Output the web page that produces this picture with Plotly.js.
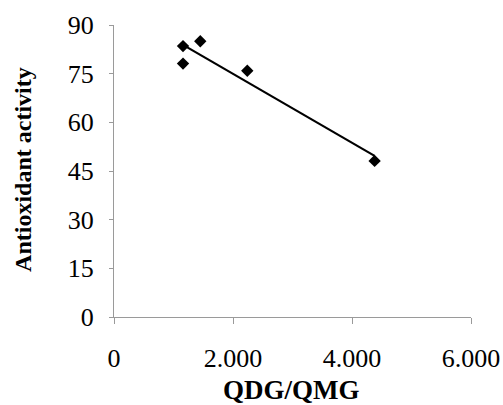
<!DOCTYPE html>
<html>
<head>
<meta charset="utf-8">
<script src="https://cdn.plot.ly/plotly-3.0.1.min.js"></script>
<style>html,body{margin:0;padding:0;background:#fff;}#chart{width:503px;height:405px;}</style>
</head>
<body>
<div id="chart"></div>
<script>
// Data
const ratioQDGQMG = [1160, 1160, 1450, 2240, 4380];
const antioxidantActivity = [83.5, 78.1, 85.0, 75.9, 48.1];
const xTickVals = [0, 2000, 4000, 6000];
const xTickText = ['0', '2.000', '4.000', '6.000'];
const yTickVals = [0, 15, 30, 45, 60, 75, 90];
const xTitle = 'QDG/QMG';
const yTitle = 'Antioxidant activity';

// Least-squares linear trendline over the data range
const n = ratioQDGQMG.length;
const mx = ratioQDGQMG.reduce((a, b) => a + b, 0) / n;
const my = antioxidantActivity.reduce((a, b) => a + b, 0) / n;
let sxy = 0, sxx = 0;
for (let i = 0; i < n; i++) {
  sxy += (ratioQDGQMG[i] - mx) * (antioxidantActivity[i] - my);
  sxx += (ratioQDGQMG[i] - mx) ** 2;
}
const slope = sxy / sxx;
const intercept = my - slope * mx;
const xMin = Math.min(...ratioQDGQMG), xMax = Math.max(...ratioQDGQMG);
const trendX = [xMin, xMax];
const trendY = trendX.map(x => intercept + slope * x);

const font = 'Liberation Serif, Times New Roman, serif';

const traces = [
  {
    x: trendX, y: trendY, mode: 'lines', type: 'scatter',
    line: {color: '#000', width: 2.2}, hoverinfo: 'skip'
  },
  {
    x: ratioQDGQMG, y: antioxidantActivity, mode: 'markers', type: 'scatter',
    marker: {symbol: 'diamond', size: 9.5, color: '#000'}
  }
];

const layout = {
  width: 503, height: 405,
  margin: {l: 114, r: 32, t: 25, b: 88},
  paper_bgcolor: '#fff', plot_bgcolor: '#fff',
  showlegend: false,
  font: {family: font, color: '#000', size: 26},
  xaxis: {
    range: [0, 6000],
    tickvals: xTickVals, ticktext: xTickText,
    showgrid: false, zeroline: false,
    showline: true, linecolor: '#9a9a9a', linewidth: 1,
    ticks: 'outside', ticklen: 6, tickcolor: '#9a9a9a', tickwidth: 1,
    ticklabelstandoff: 12,
    tickfont: {family: font, size: 26, color: '#000'}
  },
  yaxis: {
    range: [0, 90],
    tickvals: yTickVals,
    showgrid: false, zeroline: false,
    showline: true, linecolor: '#9a9a9a', linewidth: 1,
    ticks: 'outside', ticklen: 4, tickcolor: '#9a9a9a', tickwidth: 1,
    ticklabelstandoff: 10,
    tickfont: {family: font, size: 26, color: '#000'}
  },
  annotations: [
    {
      text: '<b>' + xTitle + '</b>', xref: 'paper', yref: 'paper',
      x: 0.496, y: -0.25, xanchor: 'center', yanchor: 'middle', showarrow: false,
      font: {family: font, size: 27, color: '#000'}
    },
    {
      text: '<b>' + yTitle + '</b>', xref: 'paper', yref: 'paper',
      x: -0.255, y: 0.507, xanchor: 'center', yanchor: 'middle', showarrow: false,
      textangle: -90,
      font: {family: font, size: 24, color: '#000'}
    }
  ]
};

Plotly.newPlot('chart', traces, layout, {displayModeBar: false, staticPlot: true});
</script>
</body>
</html>
